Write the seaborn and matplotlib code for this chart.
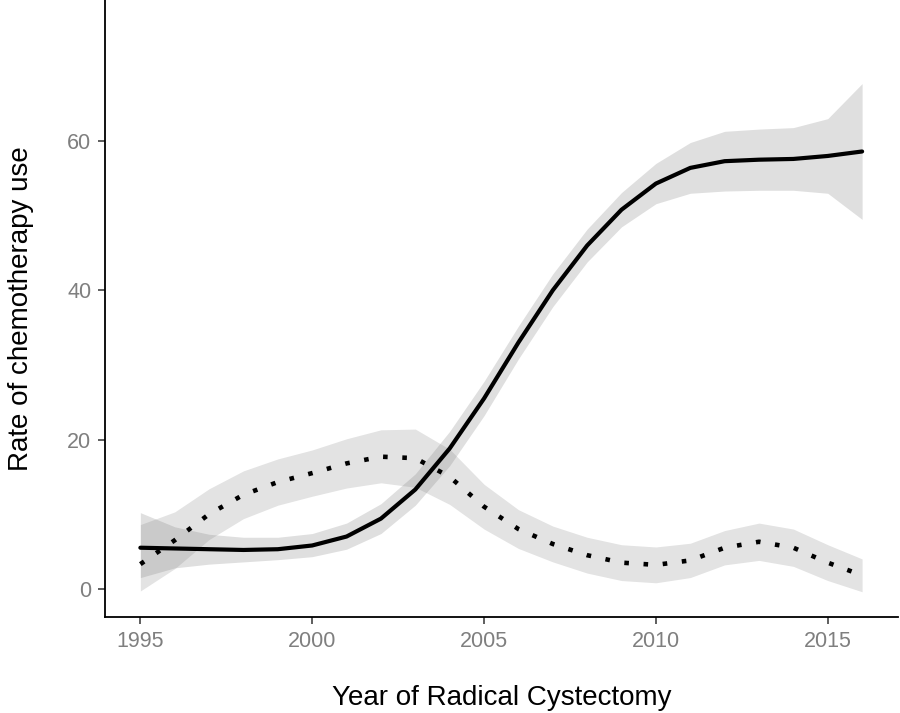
import numpy as np
import pandas as pd
import seaborn as sns
import matplotlib.pyplot as plt

sns.set_theme(style="ticks")
plt.rcParams["font.family"] = ["Liberation Sans", "DejaVu Sans"]

# Values
years = list(range(1995, 2017))

solid_mean = [5.5, 5.4, 5.3, 5.2, 5.3, 5.8, 7.0, 9.4, 13.3, 18.8, 25.5,
              33.0, 40.0, 46.0, 50.8, 54.3, 56.4, 57.3, 57.5, 57.6, 58.0, 58.6]
solid_lower = [1.5, 2.8, 3.3, 3.6, 3.9, 4.3, 5.3, 7.4, 11.2, 16.5, 23.2,
               30.8, 37.8, 43.8, 48.5, 51.6, 53.0, 53.3, 53.4, 53.4, 53.0, 49.5]
solid_upper = [10.2, 8.3, 7.3, 6.9, 6.9, 7.4, 8.8, 11.4, 15.4, 21.1, 27.8,
               35.2, 42.2, 48.2, 53.1, 57.0, 59.8, 61.3, 61.6, 61.8, 63.0, 67.7]

dot_mean = [3.3, 6.5, 10.0, 12.6, 14.3, 15.5, 16.8, 17.7, 17.5, 15.0, 11.0,
            8.0, 6.0, 4.5, 3.5, 3.2, 3.8, 5.5, 6.3, 5.5, 3.5, 1.8]
dot_lower = [-0.3, 2.7, 6.6, 9.4, 11.2, 12.4, 13.5, 14.2, 13.6, 11.3, 8.0,
             5.4, 3.6, 2.1, 1.1, 0.8, 1.5, 3.2, 3.8, 3.0, 1.1, -0.4]
dot_upper = [8.6, 10.3, 13.4, 15.8, 17.4, 18.6, 20.1, 21.3, 21.4, 18.7, 14.0,
             10.6, 8.4, 6.9, 5.9, 5.6, 6.1, 7.8, 8.8, 8.0, 5.9, 4.0]

df = pd.DataFrame({"year": years, "solid": solid_mean, "dot": dot_mean})

fig = plt.figure(figsize=(9, 7.13), dpi=100)
ax = fig.add_axes([0.117, 0.135, 0.881, 0.865])

ax.fill_between(years, solid_lower, solid_upper, color="#808080", alpha=0.25, linewidth=0)
ax.fill_between(years, dot_lower, dot_upper, color="#808080", alpha=0.22, linewidth=0)

sns.lineplot(data=df, x="year", y="solid", ax=ax, color="black", linewidth=3.0)
sns.lineplot(data=df, x="year", y="dot", ax=ax, color="black", linewidth=3.3,
             linestyle=(0, (1, 3.2)), dash_capstyle="butt")

ax.set_xlim(1993.98, 2017.05)
ax.set_ylim(-3.75, 78.9)
ax.set_xticks([1995, 2000, 2005, 2010, 2015])
ax.set_yticks([0, 20, 40, 60])
ax.set_xlabel("Year of Radical Cystectomy", fontsize=20, labelpad=24, color="black")
ax.set_ylabel("Rate of chemotherapy use", fontsize=20, labelpad=24, color="black")
ax.tick_params(axis="both", labelsize=15.5, labelcolor="#7f7f7f", color="#333333",
               length=5, width=1.1, pad=5)
sns.despine(ax=ax)
for side in ["left", "bottom"]:
    ax.spines[side].set_color("black")
    ax.spines[side].set_linewidth(1.3)

fig.savefig("out.png", dpi=100)
